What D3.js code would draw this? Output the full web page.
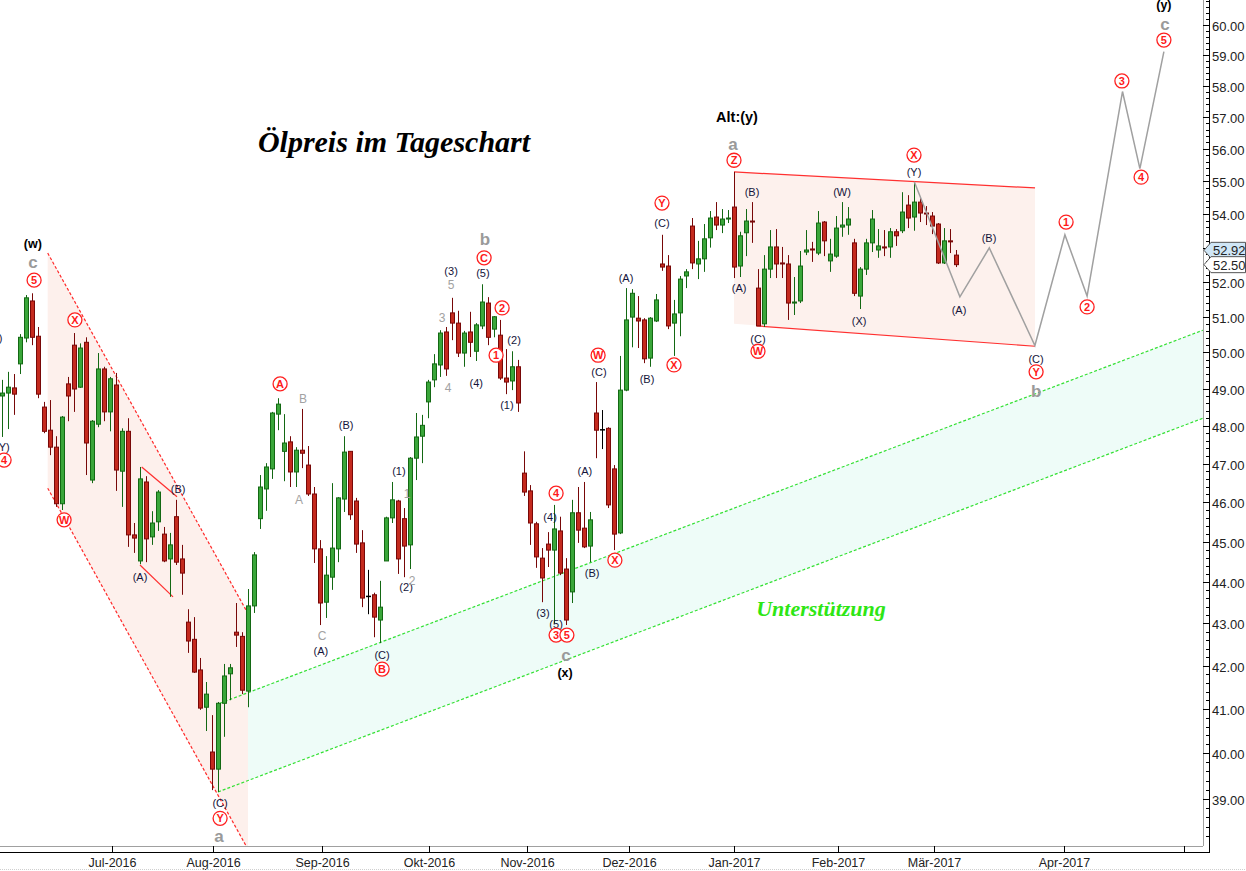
<!DOCTYPE html>
<html><head><meta charset="utf-8">
<script src="https://cdn.jsdelivr.net/npm/d3@7"></script>
<style>body{margin:0;background:#fff;} svg{display:block;}</style>
</head><body><svg id="c" width="1246" height="871"></svg>
<script>
// ---- Daily oil price candles (trading-day index 0..159) ----
const open  = [48.80,48.88,49.02,49.68,50.40,51.45,50.45,48.50,47.88,47.43,45.96,49.13,50.20,49.04,50.28,46.57,48.04,49.54,48.37,49.10,
46.80,47.85,45.17,44.52,46.52,45.12,45.50,45.19,44.57,45.63,44.57,43.03,42.62,41.90,41.04,40.03,39.65,41.13,41.81,42.79,
42.69,41.41,43.42,45.58,46.34,46.86,48.31,47.32,47.57,46.78,47.35,46.96,46.21,44.82,43.51,44.12,44.82,46.08,47.32,46.03,
44.97,43.65,43.69,43.08,44.52,45.60,46.03,45.58,44.92,47.14,47.72,48.64,49.24,49.65,50.57,51.11,50.82,49.98,50.57,50.03,
50.74,51.39,50.65,50.48,49.29,49.21,49.60,46.75,46.29,45.45,44.59,44.94,44.79,45.27,44.32,43.76,45.73,45.34,44.89,48.34,
47.89,47.93,46.86,45.22,48.96,50.99,50.96,50.91,49.84,50.88,52.52,52.46,50.82,51.11,52.17,53.64,52.52,52.67,53.29,53.91,
53.67,53.85,54.21,52.46,53.44,53.79,51.82,50.80,52.37,53.02,52.55,52.52,51.39,51.45,52.87,52.96,52.84,53.76,52.61,52.75,
53.61,53.67,53.14,51.59,52.37,53.14,52.93,53.02,53.02,53.47,53.50,54.27,53.91,54.36,54.03,53.94,53.70,52.55,53.20,52.78];
const high  = [49.24,49.46,49.40,50.51,51.62,51.67,50.71,48.64,48.69,47.72,48.26,49.32,50.54,50.25,50.42,48.15,49.98,49.60,49.32,49.43,
47.93,48.20,45.47,46.91,46.67,45.77,46.31,45.37,45.22,46.06,44.92,43.34,43.15,42.18,41.62,40.86,41.16,42.04,42.04,43.49,
42.79,43.83,44.74,46.70,47.01,48.37,48.74,48.31,47.72,47.43,48.45,47.46,46.39,45.04,44.64,46.49,46.13,47.72,47.32,46.11,
45.29,44.30,43.74,44.03,45.63,46.52,46.06,45.85,47.17,48.34,48.29,49.24,49.95,50.62,50.71,51.54,51.17,50.60,51.14,50.82,
51.93,51.56,51.02,50.91,50.09,50.03,49.79,47.32,46.44,45.50,44.84,45.24,45.93,45.63,44.59,46.06,46.39,46.52,45.75,49.18,
48.42,47.96,46.96,49.90,51.82,51.79,51.59,50.96,50.99,51.65,53.38,52.78,51.48,52.17,52.37,53.88,53.20,53.70,54.09,54.36,
54.15,54.12,55.28,53.47,54.15,54.36,52.37,52.78,53.52,53.55,53.02,52.78,52.14,52.90,53.52,53.17,54.09,53.79,53.26,53.94,
54.36,54.21,53.26,52.43,53.26,54.12,53.55,53.52,53.58,53.55,54.66,54.57,54.97,54.48,54.24,54.06,53.73,53.58,53.55,52.93];
const low   = [47.70,47.91,48.29,49.40,50.28,50.20,48.74,47.80,47.22,45.88,45.80,48.12,48.37,49.02,46.70,46.49,47.96,48.12,47.85,46.29,
45.88,44.87,44.72,44.44,44.49,44.92,45.27,44.49,43.64,44.42,43.69,42.30,41.83,40.98,40.50,39.19,39.15,40.37,41.20,42.44,
41.34,41.04,43.25,45.32,45.78,46.60,47.88,46.54,46.39,46.39,46.88,46.16,44.47,42.96,43.13,43.81,44.49,45.75,45.55,44.72,
43.39,43.22,42.67,42.53,44.52,45.47,44.20,44.12,44.32,46.57,47.01,48.20,49.04,49.32,49.35,50.34,49.87,49.60,49.87,49.76,
50.65,50.20,50.42,49.24,48.85,48.96,48.37,46.16,44.92,44.35,43.51,44.37,43.00,44.17,42.96,43.49,44.97,44.84,44.49,47.14,
47.38,45.85,44.79,45.19,48.93,50.14,50.12,49.70,49.60,50.85,52.32,50.65,49.90,50.45,51.82,52.37,52.08,52.29,53.00,53.52,
53.43,53.73,52.11,52.14,52.75,53.14,50.74,50.71,52.11,52.11,52.11,50.91,51.05,51.39,52.78,52.58,52.78,52.75,52.29,52.70,
53.32,53.38,51.59,51.22,52.20,52.87,52.70,52.75,52.70,53.05,53.43,53.58,53.50,53.76,53.67,53.40,52.52,52.52,52.84,52.43];
const close = [48.88,49.04,48.85,50.42,51.54,50.42,48.85,47.85,47.43,45.96,48.23,48.80,48.99,50.12,47.54,48.12,49.54,48.37,49.27,46.83,
47.85,45.17,45.09,46.60,45.07,45.47,46.26,44.52,44.92,44.49,44.22,42.58,41.85,41.02,41.34,39.65,41.13,41.76,41.95,42.72,
41.43,43.42,44.67,46.39,46.91,48.34,48.58,47.54,46.78,47.35,47.27,46.21,44.82,43.49,44.17,44.84,46.11,47.30,45.68,44.94,
43.61,43.65,43.15,43.39,45.60,46.06,44.57,44.89,47.14,47.70,48.01,49.18,49.68,50.54,49.54,50.82,49.98,50.54,50.28,50.77,
51.42,50.42,51.00,49.29,49.18,49.60,48.61,46.26,45.47,44.62,44.10,44.79,45.32,44.22,43.08,45.73,45.29,44.87,45.55,47.88,
47.89,45.93,45.19,48.96,50.91,51.67,50.88,49.82,50.96,51.48,52.43,50.74,51.08,52.08,52.29,52.55,52.67,53.26,53.88,53.67,
53.85,53.88,52.43,53.35,53.79,53.76,50.74,52.37,53.02,52.52,52.52,51.39,51.42,52.46,52.93,52.93,53.73,53.20,52.81,53.58,
53.67,53.85,51.67,52.37,53.14,53.85,53.05,52.99,53.47,53.35,54.06,53.88,54.36,54.03,54.00,53.64,52.55,53.20,53.17,52.50];

// ---- Axis ----
const monthLabels = ["Jul-2016","Aug-2016","Sep-2016","Okt-2016","Nov-2016","Dez-2016","Jan-2017","Feb-2017","Mär-2017","Apr-2017",""];
const monthIdx    = [18.3,35.07,53.3,71.1,87.5,104.4,121.9,139.3,155.3,177,197];
const priceTags   = [{v:52.92, fill:"#cfe6f6"},{v:52.50, fill:"#ffffff"}];

// ---- Overlays (index, price) ----
const downUpper = [[7.57,52.84],[41.28,43.15]];
const downLower = [[7.57,46.36],[40.78,37.96]];
const downFill  = [[7.57,52.84],[40.95,43.24],[40.95,37.90],[7.57,46.36]];
const supUpper  = [[36.28,41.13],[200.1,50.62]];
const supLower  = [[35.95,39.15],[200.1,48.20]];
const supFill   = [[35.95,41.13],[200.1,50.62],[200.1,48.20],[35.95,39.15]];
const boxTop    = [[121.95,55.28],[172.12,54.79]];
const boxBottom = [[125.78,50.74],[172.12,50.17]];
const boxFill   = [[121.95,55.28],[172.12,54.79],[172.12,50.17],[121.95,50.80]];
const abUpper   = [[23.23,46.91],[29.12,46.14]];
const abLower   = [[22.95,44.42],[28.45,43.64]];
const projection = [[152,54.98],[159.6,51.57],[164.5,52.99],[172.1,50.19],[177.1,53.38],[180.8,51.59],[186.7,57.81],[189.6,55.38],[193.6,59.11]];

// ---- Elliott wave labels: text, index, price, kind ----
const waveLabels = [
 ["(w)",5.1,53.11,"bold"],["c",5.1,52.55,"gbig"],["5",5.3,52.05,"circ"],
 ["(X)",-1.2,50.40,"blk"],["(Y)",0,47.43,"blk"],["4",0.3,47.09,"circ"],
 ["X",12.1,50.91,"circ"],["W",10.3,45.55,"circ"],["(B)",29.3,46.34,"blk"],["(A)",22.95,44.12,"blk"],
 ["(C)",36.3,38.90,"blk"],["Y",36.3,38.58,"circ"],["a",36.1,38.19,"gbig"],
 ["A",46.3,49.13,"circ"],["B",50.1,48.74,"gsm"],["A",49.45,46.08,"gsm"],["C",53.3,42.70,"gsm"],["(A)",53.1,42.35,"blk"],
 ["(B)",57.3,48.01,"blk"],["(C)",63.3,42.25,"blk"],["B",63.3,41.92,"circ"],
 ["(1)",66.1,46.80,"blk"],["1",67.45,46.23,"gsm"],["(2)",67.3,43.88,"blk"],["2",68.3,44.05,"gsm"],
 ["3",73.3,50.97,"gsm"],["4",74.3,49.04,"gsm"],["(3)",74.8,52.31,"blk"],["5",74.8,51.93,"gsm"],
 ["(4)",79.0,49.16,"blk"],["(5)",80.1,52.26,"blk"],["C",80.3,52.70,"circ"],["b",80.45,53.23,"gbig"],
 ["2",83.3,51.25,"circ"],["1",82.3,49.92,"circ"],["(2)",85.3,50.34,"blk"],["(1)",84.1,48.56,"blk"],
 ["(4)",91.3,45.63,"blk"],["4",92.3,46.23,"circ"],["(3)",90.1,43.25,"blk"],["(5)",92.3,42.98,"blk"],
 ["3",92.3,42.72,"circ"],["5",94.1,42.72,"circ"],["c",93.95,42.25,"gbig"],["(x)",93.8,41.83,"bold"],
 ["(A)",97.1,46.80,"blk"],["(B)",98.3,44.22,"blk"],["X",102.1,44.54,"circ"],
 ["W",99.3,49.92,"circ"],["(C)",99.45,49.46,"blk"],["(B)",107.45,49.27,"blk"],["X",111.95,49.65,"circ"],
 ["(A)",103.95,52.11,"blk"],["Y",109.95,54.33,"circ"],["(C)",109.95,53.73,"blk"],
 ["Z",121.95,55.64,"circ"],["a",121.8,56.13,"gbig"],["Alt:(y)",122.45,57.00,"alt"],
 ["(A)",122.8,51.82,"blk"],["(B)",124.95,54.67,"blk"],["(C)",125.95,50.37,"blk"],["W",125.95,50.03,"circ"],
 ["(W)",139.95,54.67,"blk"],["(X)",142.8,50.88,"blk"],["X",151.95,55.80,"circ"],["(Y)",151.95,55.28,"blk"],
 ["(A)",159.45,51.19,"blk"],["(B)",164.45,53.29,"blk"],
 ["(C)",172.3,49.82,"blk"],["Y",172.3,49.46,"circ"],["b",172.3,48.91,"gbig"],
 ["1",177.3,53.76,"circ"],["2",180.8,51.28,"circ"],["3",186.6,58.15,"circ"],["4",189.8,55.12,"circ"],
 ["5",193.6,59.49,"circ"],["c",193.8,60.02,"gbig"],["(y)",193.6,60.67,"bold"]
];

const W = 1246, H = 871, PR = 1203, PB = 846;
const svg = d3.select("#c");
const x = d3.scaleLinear().domain([-0.383, 200.117]).range([0, PR]);
const y = d3.scaleLog().domain([37.99, 60.83]).range([PB, 0]);

const defs = svg.append("defs");
defs.append("clipPath").attr("id","clip").append("rect").attr("width",PR).attr("height",PB);

const plot = svg.append("g").attr("clip-path","url(#clip)");
const line = d3.line().x(d=>x(d[0])).y(d=>y(d[1]));
const poly = pts => line(pts) + "Z";

plot.append("path").attr("d",poly(supFill)).attr("fill","#eefcf8");
plot.append("path").attr("d",poly(downFill)).attr("fill","#fdf0ec");
plot.append("path").attr("d",poly(boxFill)).attr("fill","#fdf1ed");

[downUpper, downLower].forEach(s=>plot.append("path").attr("d",line(s)).attr("stroke","#ff2a2a").attr("stroke-width",1.2).attr("stroke-dasharray","3,2").attr("fill","none"));
[supUpper, supLower].forEach(s=>plot.append("path").attr("d",line(s)).attr("stroke","#33e033").attr("stroke-width",1.2).attr("stroke-dasharray","3,2").attr("fill","none"));
[boxTop, boxBottom, abUpper, abLower].forEach(s=>plot.append("path").attr("d",line(s)).attr("stroke","#ff3030").attr("stroke-width",1.2).attr("fill","none"));

// candles
const cg = plot.append("g");
d3.range(open.length).forEach(i=>{
  const o=open[i], c=close[i], h=high[i], l=low[i];
  const up = c>o, doji = c===o;
  const edge = doji ? "#000" : (up ? "#136813" : "#780808");
  const fill = up ? "#3aa63a" : "#c42a1e";
  const cx = Math.round(x(i))+0.5;
  cg.append("line").attr("x1",cx).attr("x2",cx).attr("y1",y(h)).attr("y2",y(l)).attr("stroke",edge).attr("stroke-width",1);
  if (doji) {
    cg.append("line").attr("x1",cx-2.5).attr("x2",cx+2.5).attr("y1",y(o)).attr("y2",y(o)).attr("stroke","#000").attr("stroke-width",1.5);
  } else {
    const top = y(Math.max(o,c)), bot = y(Math.min(o,c));
    cg.append("rect").attr("x",cx-2).attr("width",4).attr("y",top).attr("height",Math.max(1,bot-top))
      .attr("fill",fill).attr("stroke",edge).attr("stroke-width",1);
  }
});

plot.append("path").attr("d",line(projection)).attr("stroke","#a0a0a0").attr("stroke-width",1.5).attr("fill","none");

// labels
const lg = svg.append("g").attr("font-family","Arial, 'Liberation Sans', sans-serif").attr("text-anchor","middle");
waveLabels.forEach(([t,i,p,k])=>{
  const px = x(i), py = y(p);
  if (k==="circ") {
    lg.append("circle").attr("cx",px).attr("cy",py).attr("r",7).attr("fill","#fff").attr("stroke","#ff2020").attr("stroke-width",1.3);
    lg.append("text").attr("x",px).attr("y",py+4).attr("font-size",11).attr("font-weight","bold").attr("fill","#ff1a1a").text(t);
  } else if (k==="blk") {
    lg.append("text").attr("x",px).attr("y",py+4).attr("font-size",11).attr("fill","#14143a").text(t);
  } else if (k==="bold") {
    lg.append("text").attr("x",px).attr("y",py+4.5).attr("font-size",12.5).attr("font-weight","bold").attr("fill","#000").text(t);
  } else if (k==="alt") {
    lg.append("text").attr("x",px).attr("y",py+5).attr("font-size",14.5).attr("font-weight","bold").attr("fill","#000").text(t);
  } else if (k==="gbig") {
    lg.append("text").attr("x",px).attr("y",py+5.5).attr("font-size",17).attr("font-weight","bold").attr("fill","#9a9a9a").text(t);
  } else {
    lg.append("text").attr("x",px).attr("y",py+4.5).attr("font-size",12).attr("fill","#a2a2a2").text(t);
  }
});

svg.append("text").attr("x",394).attr("y",152).attr("text-anchor","middle")
  .attr("font-family","'Liberation Serif', 'Times New Roman', serif").attr("font-style","italic").attr("font-weight","bold")
  .attr("font-size",30).attr("fill","#000").text("Ölpreis im Tageschart");
svg.append("text").attr("x",821).attr("y",616).attr("text-anchor","middle")
  .attr("font-family","'Liberation Serif', 'Times New Roman', serif").attr("font-style","italic").attr("font-weight","bold")
  .attr("font-size",22).attr("fill","#2ee614").text("Unterstützung");

// frame & axes
svg.append("line").attr("x1",0).attr("x2",PR).attr("y1",PB+0.5).attr("y2",PB+0.5).attr("stroke","#a0a0a0");
svg.append("line").attr("x1",PR+0.5).attr("x2",PR+0.5).attr("y1",0).attr("y2",PB).attr("stroke","#a0a0a0");
svg.append("line").attr("x1",0).attr("x2",1210).attr("y1",852.5).attr("y2",852.5).attr("stroke","#000");
svg.append("line").attr("x1",1209.5).attr("x2",1209.5).attr("y1",0).attr("y2",853).attr("stroke","#000");

const ax = svg.append("g").attr("font-family","Arial, 'Liberation Sans', sans-serif").attr("font-size",13).attr("fill","#222");
d3.range(38, 61.0001, 0.2).forEach(v=>{
  const vy = Math.round(y(v))+0.5;
  if (vy<0 || vy>PB) return;
  const major = Math.abs(v-Math.round(v))<1e-6;
  ax.append("line").attr("x1",major?1203:1206).attr("x2",1209).attr("y1",vy).attr("y2",vy).attr("stroke","#000");
  if (major && v>=39 && v<=60) ax.append("text").attr("x",1212).attr("y",vy+5).text(Math.round(v).toFixed(2));
});
monthIdx.forEach((m,k)=>{
  const mx = Math.round(x(m))+0.5;
  ax.append("line").attr("x1",mx).attr("x2",mx).attr("y1",846).attr("y2",852).attr("stroke","#000");
  ax.append("text").attr("x",mx).attr("y",867).attr("text-anchor","middle").attr("font-size",12.5).text(monthLabels[k]);
});

// price tags
priceTags.forEach(t=>{
  const ty = y(t.v);
  svg.append("path").attr("d",`M1204,${ty} L1211,${ty-8} L1245.5,${ty-8} L1245.5,${ty+8} L1211,${ty+8} Z`)
    .attr("fill",t.fill).attr("stroke","#555");
  svg.append("text").attr("x",1213).attr("y",ty+5).attr("font-family","Arial, 'Liberation Sans', sans-serif")
    .attr("font-size",13).attr("fill","#222").text(t.v.toFixed(2));
});

svg.append("line").attr("x1",0).attr("x2",W).attr("y1",869.5).attr("y2",869.5).attr("stroke","#cfcfcf").attr("stroke-dasharray","1,1");
</script></body></html>
